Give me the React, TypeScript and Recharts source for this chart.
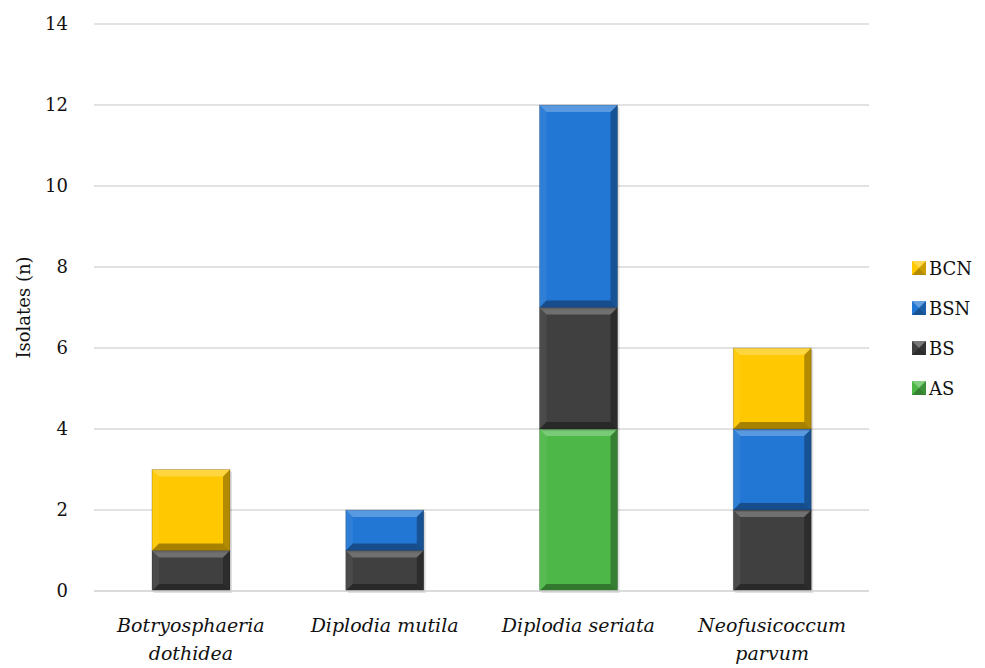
import React from 'react';
import {
  BarChart,
  Bar,
  XAxis,
  YAxis,
  CartesianGrid,
  Legend,
} from 'recharts';

const species = [
  'Botryosphaeria dothidea',
  'Diplodia mutila',
  'Diplodia seriata',
  'Neofusicoccum parvum',
];
const tickLines: string[][] = [
  ['Botryosphaeria', 'dothidea'],
  ['Diplodia mutila'],
  ['Diplodia seriata'],
  ['Neofusicoccum', 'parvum'],
];
const asValues = [0, 0, 4, 0];
const bsValues = [1, 1, 3, 2];
const bsnValues = [0, 1, 5, 2];
const bcnValues = [2, 0, 0, 2];
const yTicks = [0, 2, 4, 6, 8, 10, 12, 14];

const seriesDefs = [
  { key: 'AS', color: '#4db848' },
  { key: 'BS', color: '#404040' },
  { key: 'BSN', color: '#2277d4' },
  { key: 'BCN', color: '#ffc800' },
];

const data = species.map((name, i) => ({
  name,
  AS: asValues[i],
  BS: bsValues[i],
  BSN: bsnValues[i],
  BCN: bcnValues[i],
}));

const FONT = '"DejaVu Serif", "Liberation Serif", serif';
const FS = 18;

const bevel = (x: number, y: number, w: number, h: number, b: number) => ({
  top: `${x},${y} ${x + w},${y} ${x + w - b},${y + b} ${x + b},${y + b}`,
  bottom: `${x},${y + h} ${x + w},${y + h} ${x + w - b},${y + h - b} ${x + b},${y + h - b}`,
  left: `${x},${y} ${x + b},${y + b} ${x + b},${y + h - b} ${x},${y + h}`,
  right: `${x + w},${y} ${x + w - b},${y + b} ${x + w - b},${y + h - b} ${x + w},${y + h}`,
});

const BevelBar = (props: any) => {
  const { x, y, width, height, fill } = props;
  if (!height || height <= 0) return null;
  const b = Math.min(7, height / 3, width / 3);
  const p = bevel(x, y, width, height, b);
  return (
    <g>
      <rect x={x + 2} y={y + 2} width={width} height={height} fill="#000" opacity={0.12} />
      <rect x={x} y={y} width={width} height={height} fill={fill} />
      <polygon points={p.top} fill="#fff" opacity={0.25} />
      <polygon points={p.left} fill="#fff" opacity={0.06} />
      <polygon points={p.right} fill="#000" opacity={0.3} />
      <polygon points={p.bottom} fill="#000" opacity={0.35} />
      <rect x={x} y={y} width={width} height={height} fill="none" stroke="#000" strokeOpacity={0.25} strokeWidth={0.8} />
    </g>
  );
};

const SpeciesTick = (props: any) => {
  const { x, y, index } = props;
  const lines = tickLines[index] || [];
  return (
    <g>
      {lines.map((l, i) => (
        <text
          key={i}
          x={x}
          y={y + 33 + i * 28}
          textAnchor="middle"
          fontFamily={FONT}
          fontStyle="italic"
          fontSize={19}
          fill="#111"
        >
          {l}
        </text>
      ))}
    </g>
  );
};

const ValueTick = (props: any) => {
  const { x, y, payload } = props;
  return (
    <text x={x} y={y + 6} textAnchor="end" fontFamily={FONT} fontSize={FS} fill="#111">
      {payload.value}
    </text>
  );
};

const LegendBox = () => {
  const items = [...seriesDefs].reverse();
  return (
    <div style={{ fontFamily: FONT, fontSize: FS, color: '#111' }}>
      {items.map((s) => (
        <div key={s.key} style={{ display: 'flex', alignItems: 'center', height: 40 }}>
          <svg width={14} height={14} style={{ marginRight: 3 }}>
            <rect x={0} y={0} width={14} height={14} fill={s.color} />
            <polygon points="0,0 14,0 7,7" fill="#fff" opacity={0.3} />
            <polygon points="0,14 14,14 7,7" fill="#000" opacity={0.3} />
            <polygon points="14,0 14,14 7,7" fill="#000" opacity={0.2} />
          </svg>
          <span>{s.key}</span>
        </div>
      ))}
    </div>
  );
};

export default function App() {
  return (
    <div style={{ position: 'absolute', left: 0, top: 0, background: '#fff' }}>
      <BarChart
        width={985}
        height={668}
        data={data}
        margin={{ top: 24, right: 36, left: 0, bottom: 0 }}
      >
        <CartesianGrid vertical={false} stroke="#d9d9d9" strokeWidth={1.5} />
        <XAxis
          dataKey="name"
          tick={<SpeciesTick />}
          tickLine={false}
          axisLine={{ stroke: '#d9d9d9', strokeWidth: 1.5 }}
          interval={0}
          height={77}
        />
        <YAxis
          width={94}
          domain={[0, 14]}
          ticks={yTicks}
          tickLine={false}
          axisLine={false}
          tickMargin={20}
          tick={<ValueTick />}
          label={{
            value: 'Isolates (n)',
            angle: -90,
            position: 'insideLeft',
            offset: 24,
            style: { fontFamily: FONT, fontSize: FS, fill: '#111', textAnchor: 'middle' },
          }}
        />
        <Legend
          layout="vertical"
          align="right"
          verticalAlign="top"
          content={<LegendBox />}
          wrapperStyle={{ left: 912, top: 248, width: 80 }}
        />
        {seriesDefs.map((s) => (
          <Bar
            key={s.key}
            dataKey={s.key}
            stackId="a"
            fill={s.color}
            barSize={78}
            shape={<BevelBar />}
            isAnimationActive={false}
          />
        ))}
      </BarChart>
    </div>
  );
}
